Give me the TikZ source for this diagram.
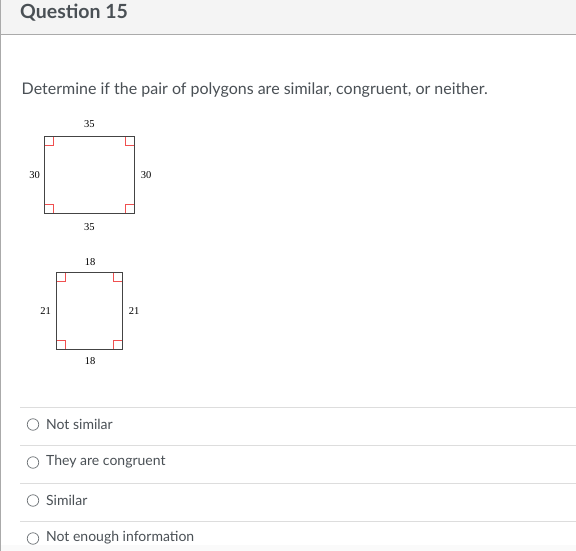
\documentclass[tikz,border=0pt]{standalone}
\usepackage{fontspec}
\setmainfont{Lato}
\newfontfamily\figfont{Liberation Serif}
\definecolor{hdrbg}{HTML}{F4F4F4}
\definecolor{hdrline}{HTML}{AAAAAA}
\definecolor{txt}{HTML}{4A5055}
\definecolor{sepline}{HTML}{DDDDDD}
\definecolor{mark}{HTML}{F05050}
\definecolor{shape}{HTML}{444444}
\tikzset{
  lbl/.style={font=\figfont\fontsize{10.5}{12}\selectfont, text=black, inner sep=0pt},
  opt/.style={font=\fontsize{14}{16}\selectfont, text=txt, anchor=west, inner sep=0pt},
  radio/.style={draw=txt!80, line width=0.7pt, circle, minimum size=11.5pt, inner sep=0pt},
  rmark/.style={draw=mark, line width=0.7pt},
  poly/.style={draw=shape, line width=0.9pt}
}
\begin{document}
\begin{tikzpicture}[x=1pt,y=-1pt]
\useasboundingbox (0,0) rectangle (576,551);
\fill[white] (0,0) rectangle (576,551);
\fill[hdrbg] (0,0) rectangle (576,35);
\draw[hdrline, line width=1pt] (0,35) -- (576,35);
\draw[hdrline, line width=1.2pt] (0.6,0) -- (0.6,551);
\node[font=\bfseries\fontsize{19.5}{22}\selectfont, text=txt, anchor=base west, inner sep=0pt] (title) at (20,19) {Question 15};
\node[font=\fontsize{16}{18}\selectfont, text=txt, anchor=base west, inner sep=0pt] (q) at (21.5,94.5) {Determine if the pair of polygons are similar, congruent, or neither.};
% square 1
\coordinate (a1) at (44.3,136);
\coordinate (b1) at (134.3,136);
\coordinate (c1) at (134.3,213.3);
\coordinate (d1) at (44.3,213.3);
\draw[rmark] (44.3,145.3) -| (53.6,136);
\draw[rmark] (125,136) |- (134.3,145.3);
\draw[rmark] (134.3,204) -| (125,213.3);
\draw[rmark] (53.6,213.3) |- (44.3,204);
\draw[poly] (a1) -- (b1) -- (c1) -- (d1) -- cycle;
\node[lbl] (t1) at (89.3,124.5) {35};
\node[lbl] (l1) at (34.5,175.5) {30};
\node[lbl] (r1) at (146,175.5) {30};
\node[lbl] (bt1) at (89.3,227) {35};
% square 2
\coordinate (a2) at (56.7,272.3);
\coordinate (b2) at (122.7,272.3);
\coordinate (c2) at (122.7,349.3);
\coordinate (d2) at (56.7,349.3);
\draw[rmark] (56.7,281.3) -| (65.7,272.3);
\draw[rmark] (113.7,272.3) |- (122.7,281.3);
\draw[rmark] (122.7,340.3) -| (113.7,349.3);
\draw[rmark] (65.7,349.3) |- (56.7,340.3);
\draw[poly] (a2) -- (b2) -- (c2) -- (d2) -- cycle;
\node[lbl] (t2) at (90,262) {18};
\node[lbl] (l2) at (45.5,311) {21};
\node[lbl] (r2) at (134,311) {21};
\node[lbl] (bt2) at (90,361.5) {18};
% options
\foreach \y in {407,445,483,521} \draw[sepline, line width=1pt] (20,\y) -- (576,\y);
\fill[black!2] (1.2,545) rectangle (576,551);
\node[radio] (r1o) at (33,424.5) {};
\node[radio] (r2o) at (33,462.5) {};
\node[radio] (r3o) at (33,500.5) {};
\node[radio] (r4o) at (33,538.5) {};
\node[opt] (o1) at (46,424) {Not similar};
\node[opt] (o2) at (46,462) {They are congruent};
\node[opt] (o3) at (46,500) {Similar};
\node[opt] (o4) at (46,538) {Not enough information};
\end{tikzpicture}
\end{document}
